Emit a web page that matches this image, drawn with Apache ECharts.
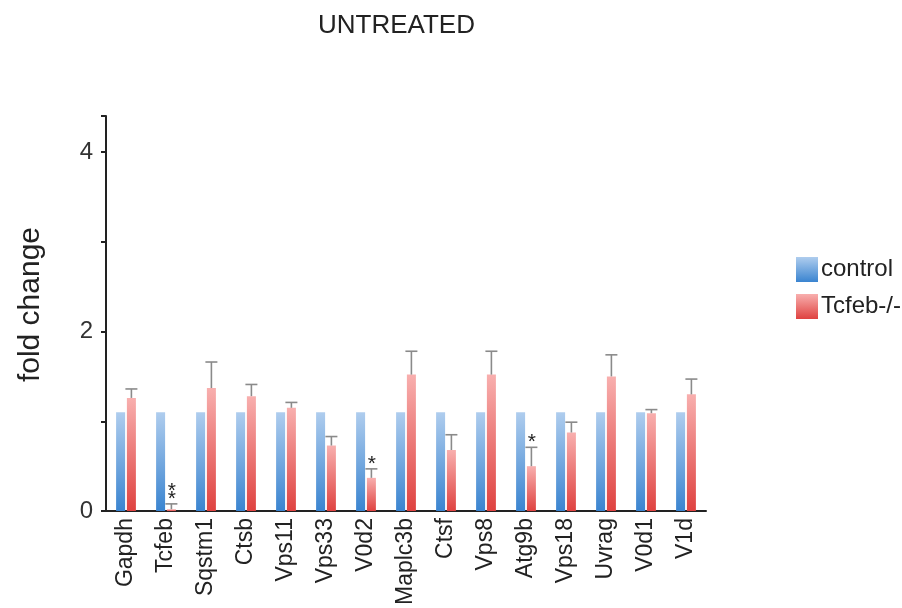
<!DOCTYPE html>
<html>
<head>
<meta charset="utf-8">
<title>UNTREATED</title>
<script src="https://cdn.jsdelivr.net/npm/echarts@6/dist/echarts.min.js"></script>
<style>
  html, body { margin: 0; padding: 0; background: #fff; }
  #chart { width: 902px; height: 608px; }
</style>
</head>
<body>
<div id="chart"></div>
<script>
// Gene panel, fold change relative to control
const genes = ['Gapdh', 'Tcfeb', 'Sqstm1', 'Ctsb', 'Vps11', 'Vps33', 'V0d2', 'Maplc3b',
               'Ctsf', 'Vps8', 'Atg9b', 'Vps18', 'Uvrag', 'V0d1', 'V1d'];
const controlValues = [1.1, 1.1, 1.1, 1.1, 1.1, 1.1, 1.1, 1.1, 1.1, 1.1, 1.1, 1.1, 1.1, 1.1, 1.1];
const knockoutValues = [1.26, 0.02, 1.37, 1.28, 1.15, 0.73, 0.37, 1.52, 0.68, 1.52, 0.50, 0.875, 1.50, 1.09, 1.30];
const knockoutError = [0.10, 0.06, 0.29, 0.13, 0.06, 0.10, 0.10, 0.26, 0.17, 0.26, 0.21, 0.115, 0.24, 0.04, 0.17];
const significance = ['', '**', '', '', '', '', '*', '', '', '', '*', '', '', '', ''];
const yTicks = [0, 2, 4];

const BAR_W = 9;
const BAR_GAP = 0.2;
const FONT = 'Liberation Sans, Arial, Helvetica, sans-serif';

const blueFill = new echarts.graphic.LinearGradient(0, 0, 0, 1, [
  { offset: 0, color: '#afcdee' },
  { offset: 1, color: '#3a84d0' }
]);
const redFill = new echarts.graphic.LinearGradient(0, 0, 0, 1, [
  { offset: 0, color: '#f8afae' },
  { offset: 1, color: '#df4240' }
]);

const errorData = genes.map((g, i) => [i, knockoutValues[i], knockoutValues[i] + knockoutError[i], significance[i]]);

function renderError(params, api) {
  const idx = api.value(0);
  const top = api.coord([idx, api.value(2)]);
  const bottom = api.coord([idx, api.value(1)]);
  const offset = (BAR_W + BAR_W * BAR_GAP) / 2;
  const cx = top[0] + offset;
  const capHalf = 6;
  const stroke = { stroke: '#8a8a8a', lineWidth: 1.6 };
  const children = [
    { type: 'line', shape: { x1: cx, y1: bottom[1], x2: cx, y2: top[1] }, style: stroke },
    { type: 'line', shape: { x1: cx - capHalf, y1: top[1], x2: cx + capHalf, y2: top[1] }, style: stroke }
  ];
  const mark = errorData[params.dataIndex][3];
  for (let k = 0; k < mark.length; k++) {
    children.push({
      type: 'text',
      style: {
        text: '*', x: cx + 0.5, y: top[1] - 5 - k * 8,
        align: 'center', verticalAlign: 'middle',
        fontSize: 21, fontFamily: FONT, fill: '#222'
      }
    });
  }
  return { type: 'group', children: children };
}

const chart = echarts.init(document.getElementById('chart'), null, { renderer: 'canvas' });
chart.setOption({
  animation: false,
  backgroundColor: '#ffffff',
  title: {
    text: 'UNTREATED',
    left: 313,
    top: 8,
    textStyle: { fontSize: 26, fontWeight: 'normal', color: '#222', fontFamily: FONT }
  },
  legend: {
    orient: 'vertical',
    left: 791,
    top: 252,
    itemWidth: 22,
    itemHeight: 25,
    itemGap: 12,
    icon: 'rect',
    data: ['control', 'Tcfeb-/-'],
    textStyle: { fontSize: 24, color: '#222', fontFamily: FONT, padding: [0, 0, 0, -2] }
  },
  grid: { left: 106, top: 116, width: 600, bottom: 95, containLabel: false },
  xAxis: {
    type: 'category',
    data: genes,
    axisLine: { lineStyle: { color: '#222', width: 2 } },
    axisTick: { show: false },
    axisLabel: { rotate: 90, fontSize: 23, color: '#222', fontFamily: FONT, margin: 7, interval: 0 }
  },
  yAxis: {
    type: 'value',
    min: 0,
    max: 4.4,
    interval: 1,
    name: 'fold change',
    nameLocation: 'middle',
    nameGap: 60,
    nameTextStyle: { fontSize: 30, color: '#222', fontFamily: FONT, padding: [0, 0, 0, 18] },
    axisLine: { show: true, lineStyle: { color: '#222', width: 2 } },
    axisTick: { show: true, length: 5, lineStyle: { color: '#222', width: 2 } },
    splitLine: { show: false },
    axisLabel: {
      fontSize: 24, color: '#333', fontFamily: FONT, margin: 13,
      formatter: v => (yTicks.indexOf(v) >= 0 ? String(v) : '')
    }
  },
  series: [
    {
      name: 'control', type: 'bar', data: controlValues,
      barWidth: BAR_W, barGap: '20%',
      itemStyle: { color: blueFill }
    },
    {
      name: 'Tcfeb-/-', type: 'bar', data: knockoutValues,
      barWidth: BAR_W, barGap: '20%',
      itemStyle: { color: redFill }
    },
    {
      name: 'error', type: 'custom', data: errorData,
      renderItem: renderError, z: 5,
      encode: { x: 0, y: 2 },
      silent: true
    }
  ]
});
</script>
</body>
</html>
